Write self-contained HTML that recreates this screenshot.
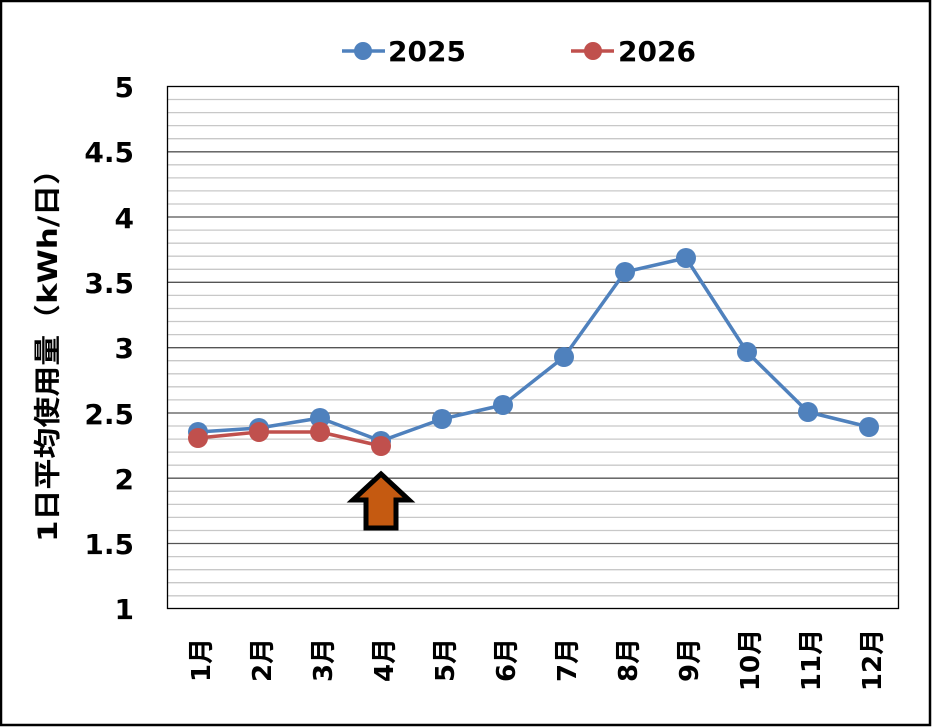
<!DOCTYPE html>
<html><head><meta charset="utf-8"><style>
body{margin:0;background:#fff}
svg{display:block}
text{font-family:"DejaVu Sans","Noto Sans CJK JP",sans-serif;font-weight:bold;fill:#000}
</style></head><body>
<svg width="932" height="727" viewBox="0 0 932 727">
<rect x="1" y="1" width="929" height="724" fill="#fff" stroke="#000" stroke-width="2.5"/>
<g stroke="#c8c8c8" stroke-width="1.3">
<line x1="167" x2="898" y1="99.5" y2="99.5"/><line x1="167" x2="898" y1="112.6" y2="112.6"/><line x1="167" x2="898" y1="125.6" y2="125.6"/><line x1="167" x2="898" y1="138.7" y2="138.7"/>
<line x1="167" x2="898" y1="164.8" y2="164.8"/><line x1="167" x2="898" y1="177.9" y2="177.9"/><line x1="167" x2="898" y1="190.9" y2="190.9"/><line x1="167" x2="898" y1="204" y2="204"/>
<line x1="167" x2="898" y1="230.1" y2="230.1"/><line x1="167" x2="898" y1="243.2" y2="243.2"/><line x1="167" x2="898" y1="256.2" y2="256.2"/><line x1="167" x2="898" y1="269.3" y2="269.3"/>
<line x1="167" x2="898" y1="295.4" y2="295.4"/><line x1="167" x2="898" y1="308.5" y2="308.5"/><line x1="167" x2="898" y1="321.5" y2="321.5"/><line x1="167" x2="898" y1="334.6" y2="334.6"/>
<line x1="167" x2="898" y1="360.7" y2="360.7"/><line x1="167" x2="898" y1="373.8" y2="373.8"/><line x1="167" x2="898" y1="386.8" y2="386.8"/><line x1="167" x2="898" y1="399.9" y2="399.9"/>
<line x1="167" x2="898" y1="426" y2="426"/><line x1="167" x2="898" y1="439.1" y2="439.1"/><line x1="167" x2="898" y1="452.1" y2="452.1"/><line x1="167" x2="898" y1="465.2" y2="465.2"/>
<line x1="167" x2="898" y1="491.3" y2="491.3"/><line x1="167" x2="898" y1="504.4" y2="504.4"/><line x1="167" x2="898" y1="517.4" y2="517.4"/><line x1="167" x2="898" y1="530.5" y2="530.5"/>
<line x1="167" x2="898" y1="556.6" y2="556.6"/><line x1="167" x2="898" y1="569.7" y2="569.7"/><line x1="167" x2="898" y1="582.7" y2="582.7"/><line x1="167" x2="898" y1="595.8" y2="595.8"/>
</g>
<g stroke="#555" stroke-width="1.3">
<line x1="167" x2="898" y1="151.8" y2="151.8"/><line x1="167" x2="898" y1="217" y2="217"/><line x1="167" x2="898" y1="282.3" y2="282.3"/><line x1="167" x2="898" y1="347.7" y2="347.7"/><line x1="167" x2="898" y1="413" y2="413"/><line x1="167" x2="898" y1="478.2" y2="478.2"/><line x1="167" x2="898" y1="543.5" y2="543.5"/>
</g>
<rect x="167.5" y="86.5" width="731" height="522" fill="none" stroke="#000" stroke-width="1.3"/>
<g font-size="28" text-anchor="end">
<text x="134" y="97">5</text><text x="134" y="162">4.5</text><text x="134" y="228">4</text><text x="134" y="293">3.5</text><text x="134" y="358">3</text><text x="134" y="424">2.5</text><text x="134" y="489">2</text><text x="134" y="554">1.5</text><text x="134" y="619">1</text>
</g>
<text transform="translate(57,348) rotate(-90)" font-size="27" text-anchor="middle" textLength="388" lengthAdjust="spacingAndGlyphs">1日平均使用量（kWh/日）</text>
<g font-size="26" text-anchor="middle">
<text transform="translate(210,660) rotate(-90)">1月</text>
<text transform="translate(271,660) rotate(-90)">2月</text>
<text transform="translate(332,660) rotate(-90)">3月</text>
<text transform="translate(393,660) rotate(-90)">4月</text>
<text transform="translate(454,660) rotate(-90)">5月</text>
<text transform="translate(515,660) rotate(-90)">6月</text>
<text transform="translate(576,660) rotate(-90)">7月</text>
<text transform="translate(637,660) rotate(-90)">8月</text>
<text transform="translate(698,660) rotate(-90)">9月</text>
<text transform="translate(759,660) rotate(-90)">10月</text>
<text transform="translate(820,660) rotate(-90)">11月</text>
<text transform="translate(881,660) rotate(-90)">12月</text>
</g>
<polyline fill="none" stroke="#4f81bd" stroke-width="3.5" stroke-linejoin="round" points="198,432 259,428 320,418 381,441 442,419 503,405 564,357 625,272 686,258 747,352 808,412 869,427"/>
<g fill="#4f81bd"><circle cx="198" cy="432" r="10"/><circle cx="259" cy="428" r="10"/><circle cx="320" cy="418" r="10"/><circle cx="381" cy="441" r="10"/><circle cx="442" cy="419" r="10"/><circle cx="503" cy="405" r="10"/><circle cx="564" cy="357" r="10"/><circle cx="625" cy="272" r="10"/><circle cx="686" cy="258" r="10"/><circle cx="747" cy="352" r="10"/><circle cx="808" cy="412" r="10"/><circle cx="869" cy="427" r="10"/></g>
<polyline fill="none" stroke="#c0504d" stroke-width="3.5" stroke-linejoin="round" points="198,438 259,432 320,432 381,446"/>
<g fill="#c0504d"><circle cx="198" cy="438" r="10"/><circle cx="259" cy="432" r="10"/><circle cx="320" cy="432" r="10"/><circle cx="381" cy="446" r="10"/></g>
<polygon points="381,474 409,500 396,500 396,528 366,528 366,500 353,500" fill="#c55a11" stroke="#000" stroke-width="5" stroke-linejoin="miter"/>
<line x1="342" x2="385" y1="51" y2="51" stroke="#4f81bd" stroke-width="3.5"/><circle cx="363" cy="51" r="9" fill="#4f81bd"/>
<text x="388" y="61" font-size="28">2025</text>
<line x1="571" x2="614" y1="51" y2="51" stroke="#c0504d" stroke-width="3.5"/><circle cx="593" cy="51" r="9" fill="#c0504d"/>
<text x="618" y="61" font-size="28">2026</text>
</svg>
</body></html>
